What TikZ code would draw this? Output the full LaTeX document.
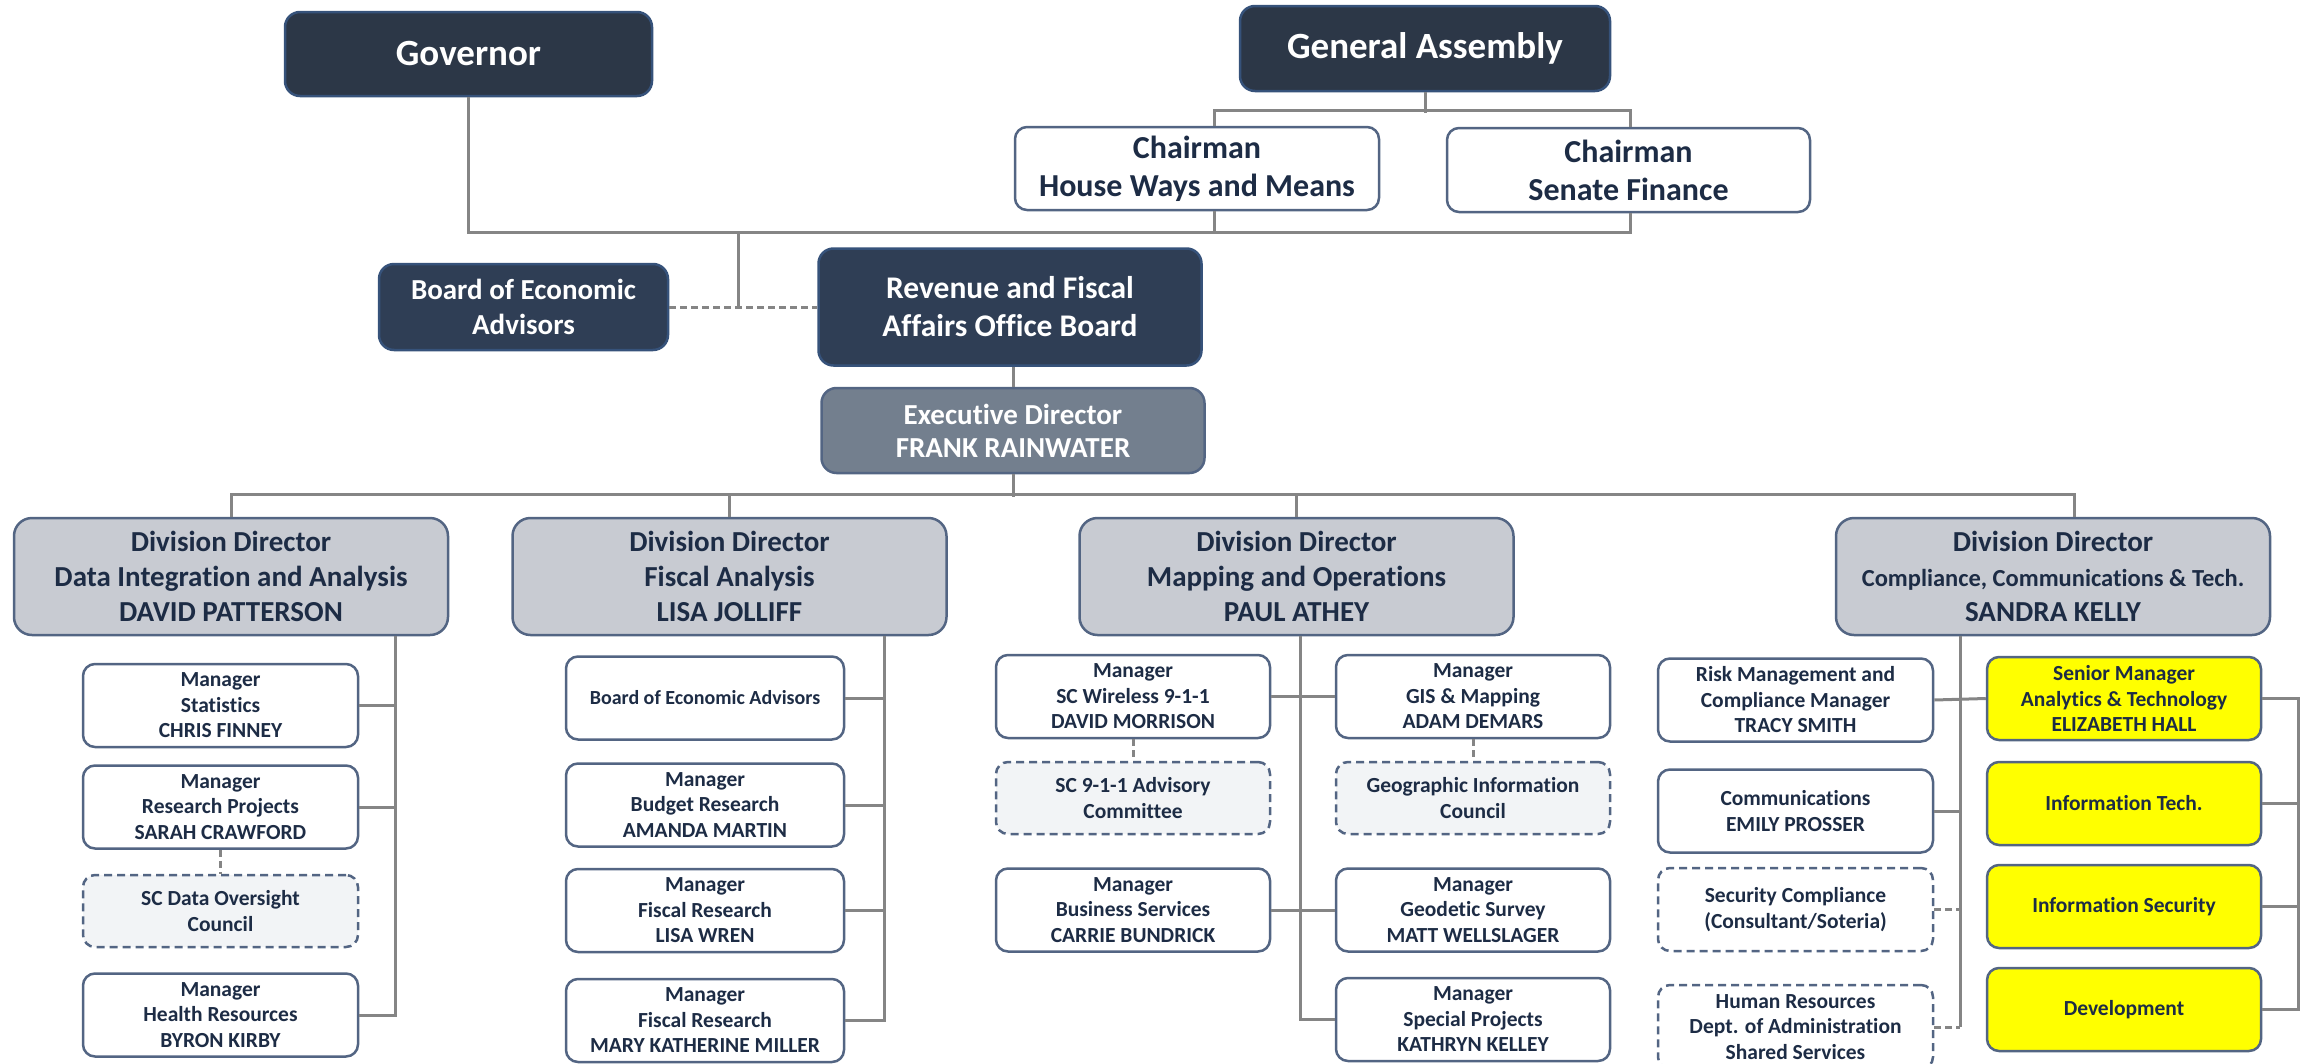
\documentclass[tikz,border=0pt]{standalone}
\usepackage{fontspec}
\setmainfont{Carlito}[Ligatures=NoCommon]
\usetikzlibrary{positioning, calc}

\definecolor{navy}{HTML}{2C3747}
\definecolor{navyb}{HTML}{2F3E55}
\definecolor{navyedge}{HTML}{36527A}
\definecolor{slate}{HTML}{737F8E}
\definecolor{dirfill}{HTML}{C8CBD2}
\definecolor{boxedge}{HTML}{536583}
\definecolor{inktext}{HTML}{1D2C45}
\definecolor{paleg}{HTML}{F2F4F6}
\definecolor{linegrey}{HTML}{858585}
\definecolor{hiyellow}{HTML}{FFFF00}

\newcommand{\fsz}[2]{\bfseries\fontsize{#1}{#2}\selectfont}

\begin{document}
\begin{tikzpicture}[
    x=1pt, y=-1pt, % one unit = one pixel, y grows downwards
    box/.style={rounded corners=12pt, line width=2.5pt, align=center, inner sep=0pt},
    topbox/.style={box, rounded corners=15pt, fill=navy, draw=navyedge, text=white}, % Governor, Assembly
    boardbox/.style={topbox, fill=navyb},
    chairbox/.style={box, fill=white, draw=boxedge, text=inktext, font=\fsz{32}{38}},
    edbox/.style={box, rounded corners=15pt, fill=slate, draw=boxedge, text=white, font=\fsz{29}{33}},
    dirbox/.style={box, rounded corners=18pt, fill=dirfill, draw=boxedge, text=inktext,
        minimum width=434pt, minimum height=117pt, font=\fsz{29}{35}},
    mgrbox/.style={box, fill=white, draw=boxedge, text=inktext,
        minimum width=275pt, minimum height=83pt, font=\fsz{21.5}{25.5}},
    dashbox/.style={mgrbox, fill=paleg, dash pattern=on 8pt off 5pt, minimum height=72pt},
    dashwhite/.style={mgrbox, dash pattern=on 8pt off 5pt},
    ybox/.style={mgrbox, fill=hiyellow},
    conn/.style={draw=linegrey, line width=3pt},
    dconn/.style={conn, dash pattern=on 7pt off 4pt}
]

    \useasboundingbox (0,0) rectangle (2313,1063);

    % Top of the chart
    \node[topbox, minimum width=367pt, minimum height=84pt, font=\fsz{37}{40}] (gov) at (468.5,54) {Governor};
    \node[topbox, minimum width=370pt, minimum height=85pt, font=\fsz{37}{40}] (ga) at (1425,48.5) {General Assembly};
    \node[chairbox, minimum width=364pt, minimum height=83pt] (house) at (1197,168.5) {Chairman\\House Ways and Means};
    \node[chairbox, minimum width=363pt, minimum height=84pt] (senate) at (1628.5,170) {Chairman\\Senate Finance};
    \node[boardbox, minimum width=289pt, minimum height=86pt, font=\fsz{29}{35}] (bea) at (523.5,307) {Board of Economic\\Advisors};
    \node[boardbox, minimum width=383pt, minimum height=117pt, font=\fsz{31.5}{38}] (rfa) at (1010,307) {Revenue and Fiscal\\Affairs Office Board};
    \node[edbox, minimum width=383pt, minimum height=85pt] (ed) at (1013,430.5) {Executive Director\\FRANK RAINWATER};

    \draw[conn] (ga.south) -- ++(0,21);
    \draw[conn] ([xshift=17pt]house.north) -- ++(0,-15) -| ([xshift=2pt]senate.north);
    \draw[conn] (gov.south) -- ++(0,135) -| ([xshift=2pt]senate.south);
    \draw[conn] ([xshift=17pt]house.south) -- ++(0,21);
    \coordinate (govbus) at (738,231);
    \draw[conn] (govbus) -- (govbus |- bea.east);
    \draw[dconn] (bea.east) -- (rfa.west);
    \draw[conn] (ed.north |- rfa.south) -- (ed.north);

    % Division directors
    \node[dirbox] (di) at (231,576.5) {Division Director\\Data Integration and Analysis\\DAVID PATTERSON};
    \node[dirbox] (fa) at (729.5,576.5) {Division Director\\Fiscal Analysis\\LISA JOLLIFF};
    \node[dirbox] (mo) at (1296.5,576.5) {Division Director\\Mapping and Operations\\PAUL ATHEY};
    \node[dirbox] (cct) at (2053,576.5) {Division Director\\{\fsz{24.5}{35}Compliance, Communications \& Tech.}\\SANDRA KELLY};

    \draw[conn] (ed.south) -- ++(0,23);
    \draw[conn] (di.north) -- ++(0,-22) -| ([xshift=21pt]cct.north);
    \draw[conn] (fa.north) -- ++(0,-22);
    \draw[conn] (mo.north) -- ++(0,-22);

    % Data Integration and Analysis
    \node[mgrbox] (stat) at (220.5,705.5) {Manager\\Statistics\\CHRIS FINNEY};
    \node[mgrbox] (resp) at (220.5,807) {Manager\\Research Projects\\SARAH CRAWFORD};
    \node[dashbox] (dsc) at (220.5,911) {SC Data Oversight\\Council};
    \node[mgrbox] (hlth) at (220.5,1015) {Manager\\Health Resources\\BYRON KIRBY};

    \coordinate (dis) at ([xshift=164pt]di.south);
    \draw[conn] (dis) |- (hlth.east);
    \foreach \n in {stat,resp}
        \draw[conn] (\n.east) -- (\n.east -| dis);
    \draw[dconn] (resp.south) -- (dsc.north);

    % Fiscal Analysis
    \node[mgrbox, minimum width=278pt, font=\fsz{20}{25}] (bea2) at (705,698) {Board of Economic Advisors};
    \node[mgrbox, minimum width=278pt] (budg) at (705,805) {Manager\\Budget Research\\AMANDA MARTIN};
    \node[mgrbox, minimum width=278pt] (wren) at (705,910.5) {Manager\\Fiscal Research\\LISA WREN};
    \node[mgrbox, minimum width=278pt] (mkm) at (705,1020.5) {Manager\\Fiscal Research\\MARY KATHERINE MILLER};

    \coordinate (fas) at ([xshift=154.5pt]fa.south);
    \draw[conn] (fas) |- (mkm.east);
    \foreach \n in {bea2,budg,wren}
        \draw[conn] (\n.east) -- (\n.east -| fas);

    % Mapping and Operations
    \node[mgrbox, minimum width=274pt] (wire) at (1133,696.5) {Manager\\SC Wireless 9-1-1\\DAVID MORRISON};
    \node[dashbox, minimum width=274pt] (adv) at (1133,798) {SC 9-1-1 Advisory\\Committee};
    \node[mgrbox, minimum width=274pt] (busi) at (1133,910) {Manager\\Business Services\\CARRIE BUNDRICK};
    \node[mgrbox, minimum width=274pt] (gis) at (1473,696.5) {Manager\\GIS \& Mapping\\ADAM DEMARS};
    \node[dashbox, minimum width=274pt] (gic) at (1473,798) {Geographic Information\\Council};
    \node[mgrbox, minimum width=274pt] (geod) at (1473,910) {Manager\\Geodetic Survey\\MATT WELLSLAGER};
    \node[mgrbox, minimum width=274pt] (spec) at (1473,1019.5) {Manager\\Special Projects\\KATHRYN KELLEY};

    \draw[conn] ([xshift=3.5pt]mo.south) |- (spec.west);
    \draw[conn] (wire.east) -- (gis.west);
    \draw[conn] (busi.east) -- (geod.west);
    \draw[dconn] (wire.south) -- (adv.north);
    \draw[dconn] (gis.south) -- (gic.north);

    % Compliance, Communications & Tech.
    \node[mgrbox] (risk) at (1795.5,700) {Risk Management and\\Compliance Manager\\TRACY SMITH};
    \node[mgrbox] (comm) at (1795.5,811) {Communications\\EMILY PROSSER};
    \node[dashwhite] (sec) at (1795.5,909.5) {Security Compliance\\(Consultant/Soteria)};
    \node[dashwhite, minimum height=84pt] (hr) at (1795.5,1027) {Human Resources\\Dept. of Administration\\Shared Services};
    \node[ybox, minimum width=274pt] (senior) at (2124,698.5) {Senior Manager\\Analytics \& Technology\\ELIZABETH HALL};
    \node[ybox, minimum width=274pt] (itech) at (2124,803.5) {Information Tech.};
    \node[ybox, minimum width=274pt] (isec) at (2124,906.5) {Information Security};
    \node[ybox, minimum width=274pt] (dev) at (2124,1009.5) {Development};

    \coordinate (cs) at ([xshift=-93pt]cct.south);
    \draw[conn] (cs) -- (cs |- hr.east);
    \draw[conn] (risk.east) -- (senior.west);
    \draw[conn] (comm.east) -- (comm.east -| cs);
    \draw[dconn] (sec.east) -- (sec.east -| cs);
    \draw[dconn] (hr.east) -- (hr.east -| cs);
    \draw[conn] (senior.east) -- ++(36,0) coordinate (yb) |- (dev.east);
    \foreach \n in {itech,isec}
        \draw[conn] (\n.east) -- (\n.east -| yb);

\end{tikzpicture}
\end{document}
